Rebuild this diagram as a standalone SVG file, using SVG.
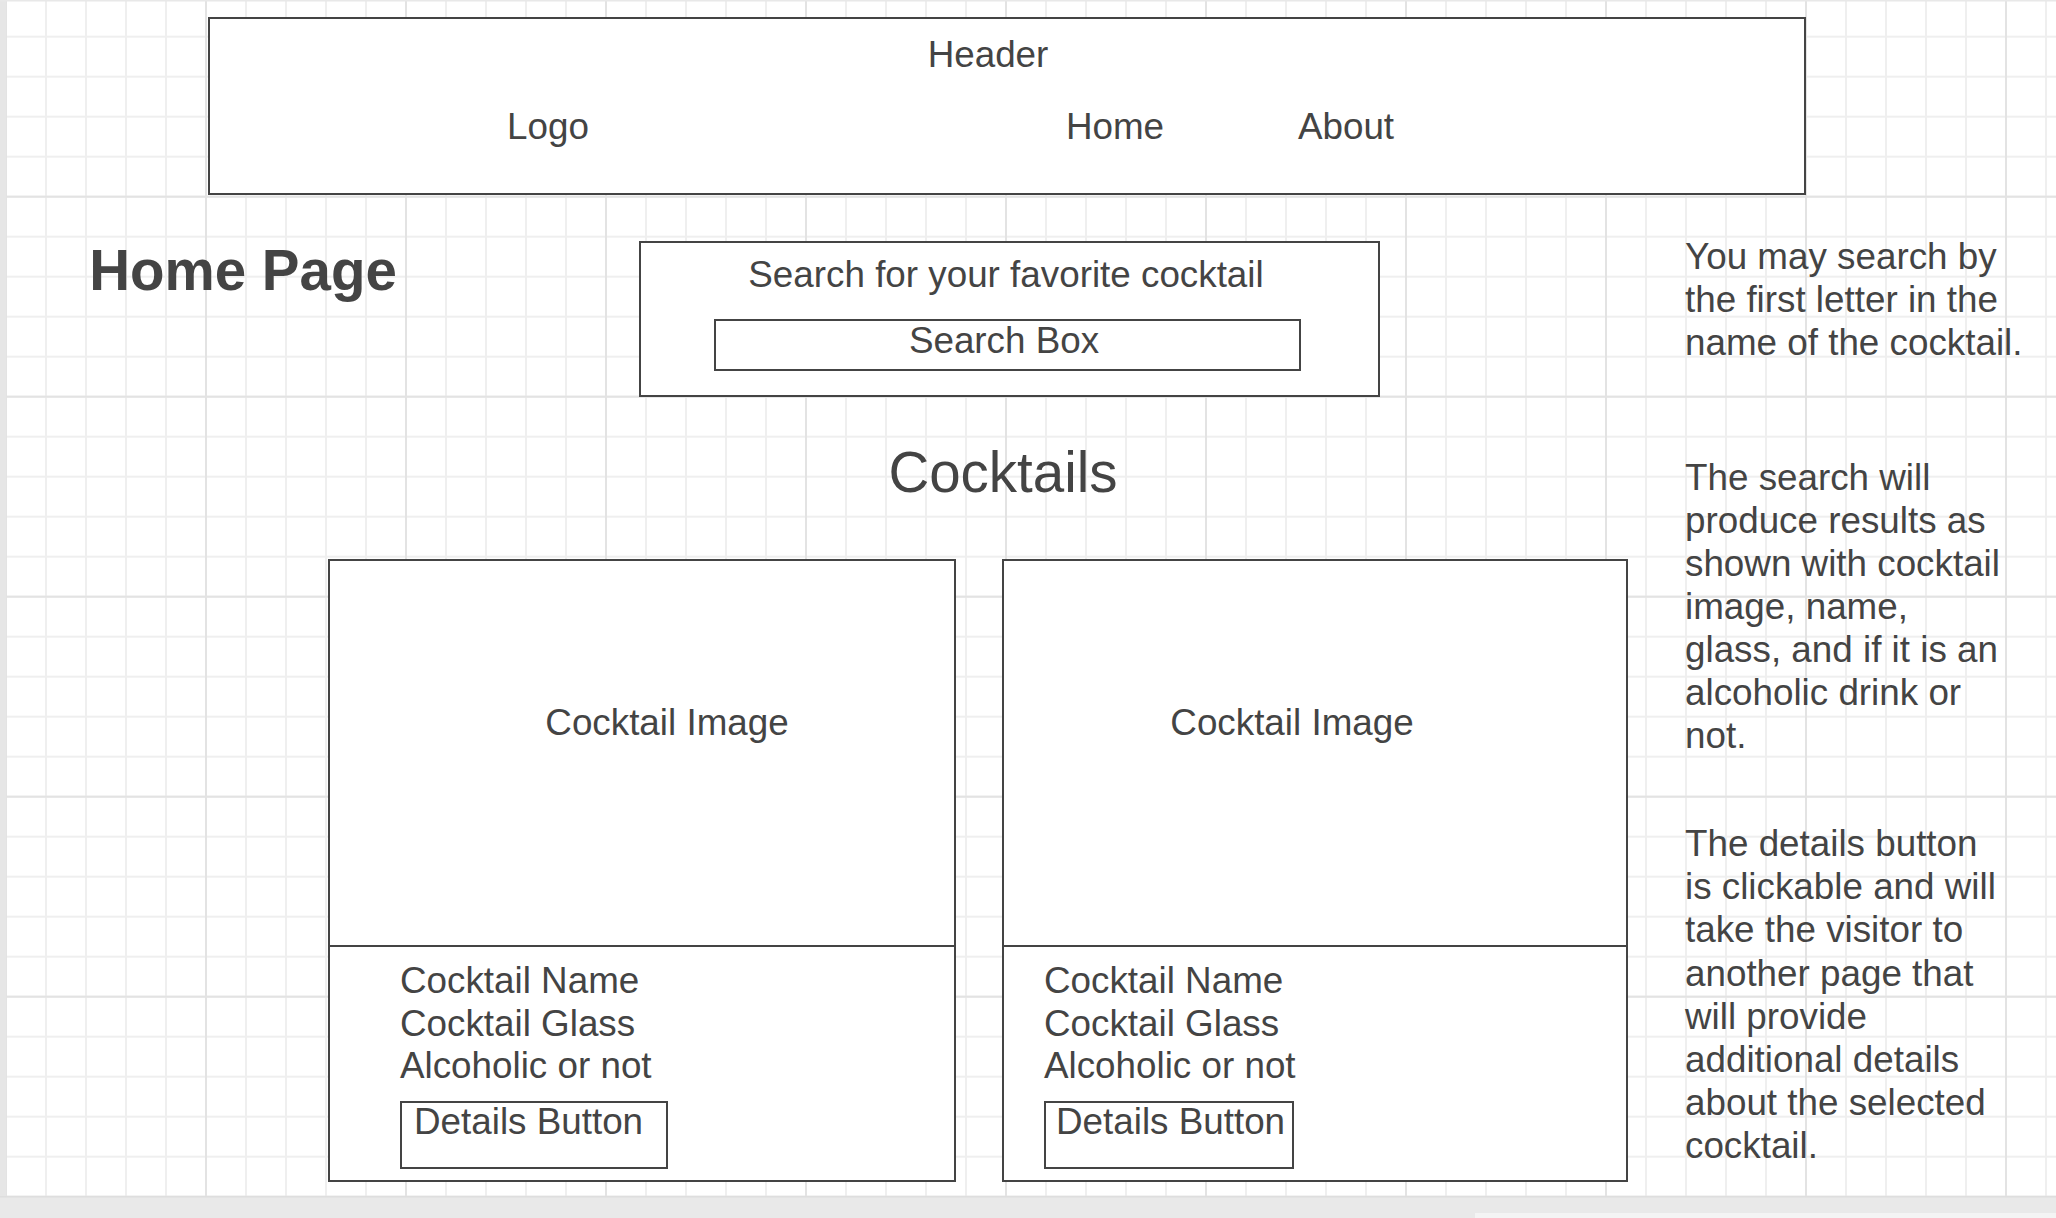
<svg xmlns="http://www.w3.org/2000/svg" width="2056" height="1218" viewBox="0 0 2056 1218">
  <defs>
    <!-- canvas grid: 40px minor cells, 200px major cells -->
    <pattern id="gridMinor" width="40" height="40" patternUnits="userSpaceOnUse" x="-14" y="16.7">
      <path d="M20 0V40M0 20H40" stroke="#efefef" stroke-width="2" fill="none"/>
    </pattern>
    <pattern id="gridMajor" width="200" height="200" patternUnits="userSpaceOnUse" x="-94" y="96.7">
      <path d="M100 0V200M0 100H200" stroke="#e3e3e3" stroke-width="2" fill="none"/>
    </pattern>
    <style>
      .box { fill: #ffffff; stroke: #444444; stroke-width: 2; }
      .line { stroke: #444444; stroke-width: 2; fill: none; }
      .t { font-family: "Liberation Sans", Arial, sans-serif; font-size: 36.8px; fill: #444444; }
      .mid { text-anchor: middle; }
      .title { font-family: "Liberation Sans", Arial, sans-serif; font-size: 56.5px; fill: #444444; text-anchor: middle; }
      .bold { font-weight: bold; }
    </style>
  </defs>

  <!-- page background and grid -->
  <rect x="0" y="0" width="2056" height="1218" fill="#ffffff"/>
  <rect x="6" y="0" width="2050" height="1196" fill="url(#gridMinor)"/>
  <rect x="6" y="0" width="2050" height="1196" fill="url(#gridMajor)"/>
  <rect x="0" y="0" width="6" height="1218" fill="#e6e6e6"/>
  <rect x="0" y="0" width="2056" height="1.5" fill="#e8e8e8"/>
  <rect x="0" y="1196" width="2056" height="22" fill="#e9e9e9"/>
  <rect x="0" y="1196" width="2056" height="1.5" fill="#dedede"/>
  <rect x="1475" y="1213" width="581" height="5" fill="#f4f4f4"/>

  <!-- header bar -->
  <g id="header">
    <rect class="box" x="209" y="18" width="1596" height="176"/>
    <text class="t mid" x="988" y="67">Header</text>
  </g>
  <g id="logo">
    <text class="t mid" x="548" y="139">Logo</text>
  </g>
  <g id="nav-home">
    <text class="t mid" x="1115" y="139">Home</text>
  </g>
  <g id="nav-about">
    <text class="t mid" x="1346" y="139">About</text>
  </g>

  <!-- page title -->
  <g id="page-title">
    <text class="title bold" x="243" y="290">Home Page</text>
  </g>

  <!-- search panel -->
  <g id="search-panel">
    <rect class="box" x="640" y="242" width="739" height="154"/>
    <text class="t mid" x="1006" y="287">Search for your favorite cocktail</text>
  </g>
  <g id="search-box">
    <rect class="box" x="715" y="320" width="585" height="50"/>
    <text class="t mid" x="1004" y="353">Search Box</text>
  </g>

  <!-- results heading -->
  <g id="results-title">
    <text class="title" x="1003" y="492">Cocktails</text>
  </g>

  <!-- result card 1 -->
  <g id="card-1">
    <rect class="box" x="329" y="560" width="626" height="621"/>
    <line class="line" x1="329" y1="946" x2="955" y2="946"/>
    <text class="t mid" x="667" y="735">Cocktail Image</text>
    <text class="t" x="400" y="993">Cocktail Name</text>
    <text class="t" x="400" y="1036">Cocktail Glass</text>
    <text class="t" x="400" y="1078">Alcoholic or not</text>
  </g>
  <g id="card-1-button">
    <rect class="box" x="401" y="1102" width="266" height="66"/>
    <text class="t" x="414" y="1134">Details Button</text>
  </g>

  <!-- result card 2 -->
  <g id="card-2">
    <rect class="box" x="1003" y="560" width="624" height="621"/>
    <line class="line" x1="1003" y1="946" x2="1627" y2="946"/>
    <text class="t mid" x="1292" y="735">Cocktail Image</text>
    <text class="t" x="1044" y="993">Cocktail Name</text>
    <text class="t" x="1044" y="1036">Cocktail Glass</text>
    <text class="t" x="1044" y="1078">Alcoholic or not</text>
  </g>
  <g id="card-2-button">
    <rect class="box" x="1045" y="1102" width="248" height="66"/>
    <text class="t" x="1056" y="1134">Details Button</text>
  </g>

  <!-- side notes -->
  <g id="note-search">
    <text class="t" x="1685" y="269">You may search by</text>
    <text class="t" x="1685" y="312">the first letter in the</text>
    <text class="t" x="1685" y="355">name of the cocktail.</text>
  </g>
  <g id="note-results">
    <text class="t" x="1685" y="490">The search will</text>
    <text class="t" x="1685" y="533">produce results as</text>
    <text class="t" x="1685" y="576">shown with cocktail</text>
    <text class="t" x="1685" y="619">image, name,</text>
    <text class="t" x="1685" y="662">glass, and if it is an</text>
    <text class="t" x="1685" y="705">alcoholic drink or</text>
    <text class="t" x="1685" y="748">not.</text>
  </g>
  <g id="note-details">
    <text class="t" x="1685" y="856">The details button</text>
    <text class="t" x="1685" y="899">is clickable and will</text>
    <text class="t" x="1685" y="942">take the visitor to</text>
    <text class="t" x="1685" y="986">another page that</text>
    <text class="t" x="1685" y="1029">will provide</text>
    <text class="t" x="1685" y="1072">additional details</text>
    <text class="t" x="1685" y="1115">about the selected</text>
    <text class="t" x="1685" y="1158">cocktail.</text>
  </g>

  <!-- no connectors in this wireframe -->
  <g id="connectors"/>
</svg>
